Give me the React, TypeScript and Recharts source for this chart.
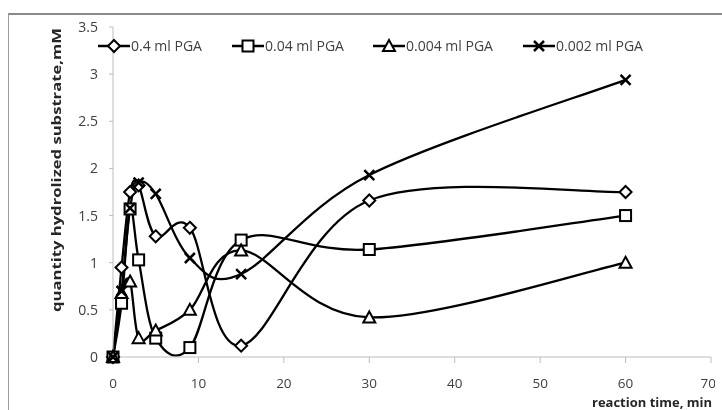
import React from "react"
import { LineChart, Line, XAxis, YAxis, Legend, Label } from "recharts"

// reaction time, min
const times = [0, 1, 2, 3, 5, 9, 15, 30, 60]
// quantity hydrolized substrate, mM
const pga04 = [0, 0.95, 1.75, 1.82, 1.28, 1.37, 0.12, 1.66, 1.75]
const pga004 = [0, 0.57, 1.57, 1.03, 0.2, 0.1, 1.24, 1.14, 1.5]
const pga0004 = [0, 0.68, 0.8, 0.2, 0.28, 0.5, 1.13, 0.42, 1.0]
const pga0002 = [0, 0.7, 1.58, 1.85, 1.73, 1.05, 0.88, 1.93, 2.94]

const seriesNames = ["0.4 ml PGA", "0.04 ml PGA", "0.004 ml PGA", "0.002 ml PGA"]
const seriesKeys = ["a", "b", "c", "d"]
const shapes = ["diamond", "square", "triangle", "cross"]

const xTicks = [0, 10, 20, 30, 40, 50, 60, 70]
const yTicks = [0, 0.5, 1, 1.5, 2, 2.5, 3, 3.5]

const data = times.map((t, i) => ({
  t,
  a: pga04[i],
  b: pga004[i],
  c: pga0004[i],
  d: pga0002[i],
}))

const FONT = "'Open Sans', sans-serif"
const TEXT = "#404040"
const AXIS = "#bdbdbd"

// excel-like smoothed line (catmull-rom bezier)
const excelCurve = (context: any) => {
  let pts: number[][] = []
  return {
    areaStart() {},
    areaEnd() {},
    lineStart() {
      pts = []
    },
    point(x: number, y: number) {
      pts.push([+x, +y])
    },
    lineEnd() {
      const n = pts.length
      if (!n) return
      context.moveTo(pts[0][0], pts[0][1])
      for (let i = 0; i < n - 1; i++) {
        const p0 = pts[Math.max(i - 1, 0)]
        const p1 = pts[i]
        const p2 = pts[i + 1]
        const p3 = pts[Math.min(i + 2, n - 1)]
        context.bezierCurveTo(
          p1[0] + (p2[0] - p0[0]) / 6,
          p1[1] + (p2[1] - p0[1]) / 6,
          p2[0] - (p3[0] - p1[0]) / 6,
          p2[1] - (p3[1] - p1[1]) / 6,
          p2[0],
          p2[1]
        )
      }
    },
  }
}

const Marker = ({ shape, cx, cy }: { shape: string; cx: number; cy: number }) => {
  const st = { fill: "#fff", stroke: "#000", strokeWidth: 2 }
  if (shape === "diamond")
    return <path d={`M${cx},${cy - 6}L${cx + 6},${cy}L${cx},${cy + 6}L${cx - 6},${cy}Z`} {...st} />
  if (shape === "square") return <rect x={cx - 5.5} y={cy - 5.5} width={11} height={11} {...st} />
  if (shape === "triangle")
    return <path d={`M${cx},${cy - 6}L${cx + 6},${cy + 5}L${cx - 6},${cy + 5}Z`} {...st} />
  return (
    <path
      d={`M${cx - 5},${cy - 5}L${cx + 5},${cy + 5}M${cx + 5},${cy - 5}L${cx - 5},${cy + 5}`}
      stroke="#000"
      strokeWidth={2.5}
      fill="none"
    />
  )
}

const legendLeft = [89, 223, 364, 514]

const renderLegend = () => (
  <div style={{ position: "relative", height: 16, width: 700 }}>
    {seriesNames.map((name, i) => (
      <div
        key={name}
        style={{ position: "absolute", left: legendLeft[i], top: 0, display: "flex", alignItems: "center" }}
      >
        <svg width={32} height={16}>
          <line x1={0} y1={8} x2={32} y2={8} stroke="#000" strokeWidth={2.5} />
          <Marker shape={shapes[i]} cx={16} cy={8} />
        </svg>
        <span style={{ fontFamily: FONT, fontSize: 14, color: TEXT, marginLeft: 1, whiteSpace: "nowrap" }}>
          {name}
        </span>
      </div>
    ))}
  </div>
)

const renderYLabel = (props: any) => {
  const vb = props.viewBox || { x: 0, y: 12 }
  const x = vb.x + 47
  const y = vb.y + 143
  return (
    <text
      x={x}
      y={y}
      transform={`rotate(-90 ${x} ${y})`}
      textAnchor="middle"
      dominantBaseline="central"
      fontFamily={FONT}
      fontWeight="bold"
      fontSize={13}
      fill="#262626"
      textLength={284}
      lengthAdjust="spacingAndGlyphs"
    >
      quantity hydrolized substrate,mM
    </text>
  )
}

const renderXLabel = () => (
  <text
    x={643}
    y={387}
    textAnchor="middle"
    dominantBaseline="central"
    fontFamily={FONT}
    fontWeight="bold"
    fontSize={12}
    fill="#262626"
    textLength={120}
    lengthAdjust="spacingAndGlyphs"
  >
    reaction time, min
  </text>
)

export default function App() {
  return (
    <div style={{ position: "fixed", left: 8, top: 13, width: 714, height: 397, overflow: "visible" }}>
      <div
        style={{
          width: 713,
          height: 395,
          borderTop: "2px solid #8a8a8a",
          borderLeft: "1px solid #9a9a9a",
        }}
      >
        <LineChart
          width={706}
          height={395}
          data={data}
          margin={{ top: 12, right: 4, left: 0, bottom: 23 }}
          style={{ overflow: "visible" }}
        >
          <XAxis
            dataKey="t"
            type="number"
            domain={[0, 70]}
            ticks={xTicks}
            height={30}
            tickSize={6}
            tickMargin={15}
            stroke={AXIS}
            tick={{ fill: TEXT, fontSize: 13.5, fontFamily: FONT }}
          >
            <Label content={renderXLabel} />
          </XAxis>
          <YAxis
            type="number"
            domain={[0, 3.5]}
            ticks={yTicks}
            width={104}
            tickSize={4}
            tickMargin={11}
            stroke={AXIS}
            tick={{ fill: TEXT, fontSize: 14, fontFamily: FONT }}
          >
            <Label content={renderYLabel} />
          </YAxis>
          <Legend
            layout="horizontal"
            verticalAlign="middle"
            align="center"
            wrapperStyle={{ top: 21, left: 0, width: 700 }}
            content={renderLegend}
          />
          {seriesKeys.map((k, i) => (
            <Line
              key={k}
              dataKey={k}
              name={seriesNames[i]}
              type={excelCurve as any}
              stroke="#000"
              strokeWidth={2.3}
              isAnimationActive={false}
              dot={(p: any) => <Marker key={`${k}-${p.index}`} shape={shapes[i]} cx={p.cx} cy={p.cy} />}
              activeDot={false}
            />
          ))}
        </LineChart>
      </div>
    </div>
  )
}
